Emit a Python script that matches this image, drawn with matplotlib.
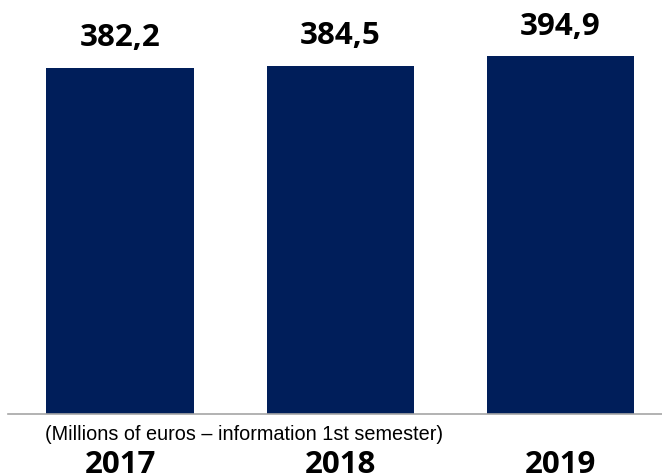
import matplotlib
matplotlib.use("Agg")
import matplotlib.pyplot as plt

years = ["2017", "2018", "2019"]
values = [382.2, 384.5, 394.9]
value_labels = ["382,2", "384,5", "394,9"]
caption = "(Millions of euros \u2013 information 1st semester)"

W, H = 662, 475
fig = plt.figure(figsize=(W / 100, H / 100), dpi=100)
ax = fig.add_axes([8 / W, (H - 414) / H, (W - 8) / W, 414 / H])

bar_color = "#001E5A"
x = list(range(len(years)))
ax.bar(x, values, width=0.67, color=bar_color, zorder=2)
ax.set_xlim(-0.509, 2.461)
ax.set_ylim(0, 457.3)

for s in ["top", "right", "left"]:
    ax.spines[s].set_visible(False)
ax.spines["bottom"].set_color("#A6A6A6")
ax.spines["bottom"].set_linewidth(1.2)
ax.set_yticks([])
ax.set_xticks([])

for xi, v, lab in zip(x, values, value_labels):
    ax.annotate(lab, (xi, v), xytext=(0, 15.8), textcoords="offset points",
                ha="center", va="baseline", fontsize=22.5, fontweight="bold",
                family="Open Sans", color="#000000")

fig.text(45 / W, (H - 440) / H, caption, ha="left", va="baseline",
         fontsize=14.3, family="Liberation Sans", color="#000000")

for xi, y in zip(x, years):
    xf = ax.transData.transform((xi, 0))[0] / W
    fig.text(xf, (H - 473) / H, y, ha="center", va="baseline",
             fontsize=22.5, fontweight="bold", family="Open Sans", color="#000000")

fig.savefig("out.png", dpi=100)
